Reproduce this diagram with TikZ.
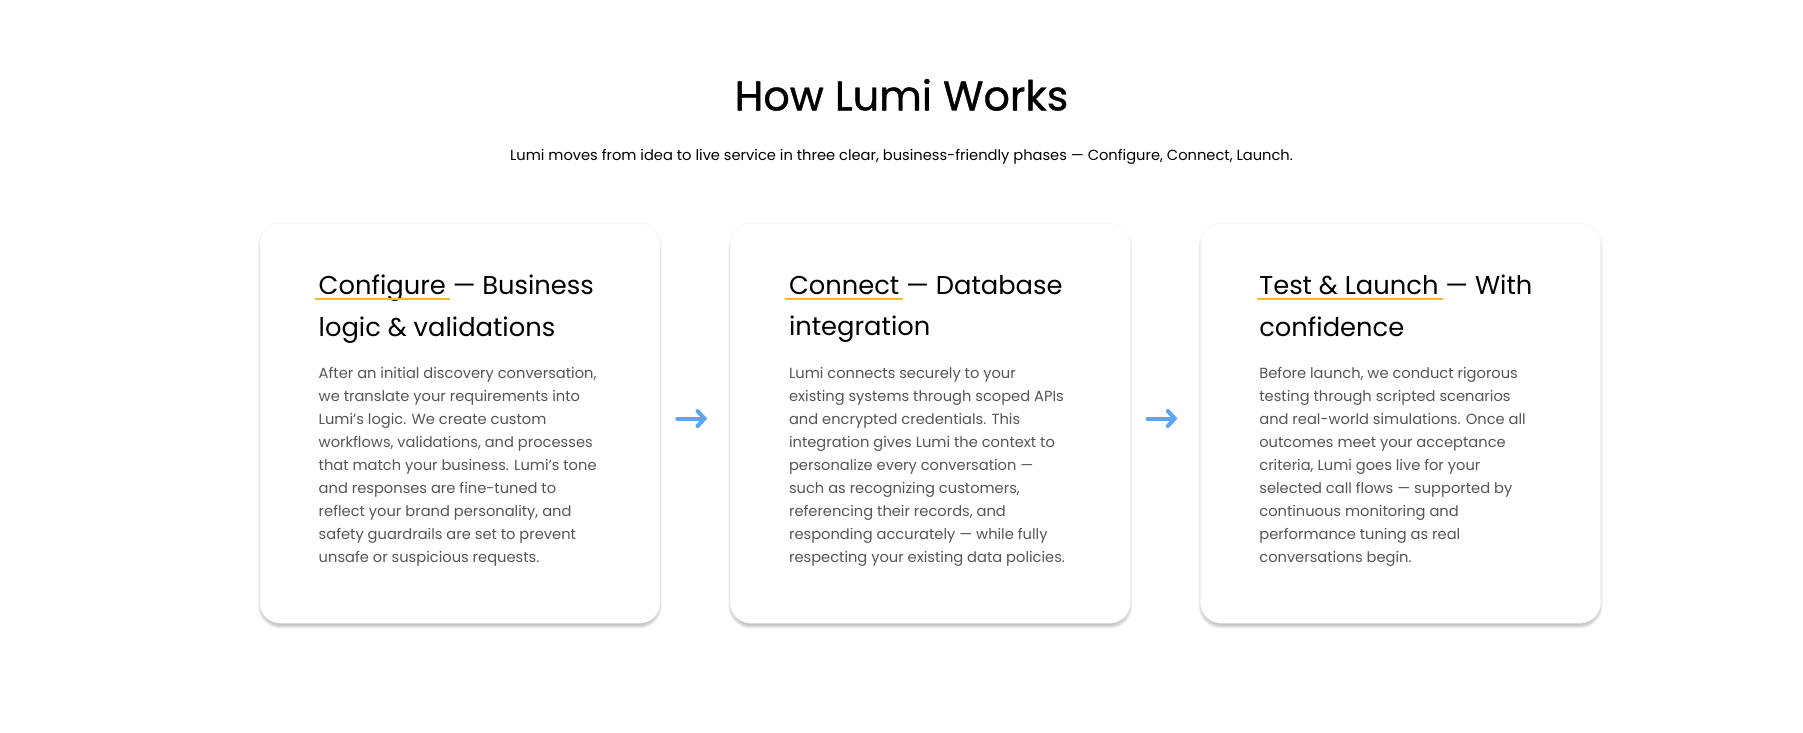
\documentclass[tikz,border=0pt]{standalone}
\usepackage{fontspec}
\setmainfont{Poppins}
\newfontfamily\titlefont[FakeBold=0.9]{Poppins}
\usetikzlibrary{shadows.blur,arrows.meta}
\definecolor{bodyg}{HTML}{555555}
\definecolor{uline}{HTML}{F5B82E}
\definecolor{arr}{HTML}{5AA5F5}
\begin{document}
\begin{tikzpicture}[x=1pt,y=-1pt,
  card/.style={draw=black!4,fill=white,rounded corners=18pt,blur shadow={shadow xshift=0pt,shadow yshift=-3pt,shadow blur steps=8,shadow opacity=25}},
  head/.style={anchor=north west,align=left,inner sep=0pt,font=\fontsize{22.4}{36}\selectfont},
  body/.style={anchor=north west,align=left,inner sep=0pt,text=bodyg,font=\fontsize{12.75}{20}\selectfont},
  ul/.style={uline,line width=1.6pt},
  flow/.style={arr,line width=3.5pt,-{Straight Barb[length=6pt,width=13pt,line cap=round]},line cap=round}]
\useasboundingbox (0,0) rectangle (1568,636.6);
\node (title) at (784,82.5) {\titlefont\fontsize{36}{40}\selectfont How Lumi Works};
\node (sub) at (784,136.5) {\fontsize{12.75}{16}\selectfont Lumi moves from idea to live service in three clear, business-friendly phases — Configure, Connect, Launch.};
\foreach \x/\n in {226/c1,635/c2,1044/c3}{
  \path[card] (\x,194) rectangle ++(348,348);
}
\coordinate (c1e) at (575,364); \coordinate (c2w) at (635,364);
\coordinate (c2e) at (984,364); \coordinate (c3w) at (1044,364);
\node[head] (h1) at (277,239) {Configure — Business\\logic \& validations};
\node[head] (h2) at (686,239) {Connect — Database\\integration};
\node[head] (h3) at (1095,239) {Test \& Launch — With\\confidence};
\draw[ul] (274,260) -- (391,260);
\draw[ul] (683,260) -- (785,260);
\draw[ul] (1093,260) -- (1255,260);
\node[body] (b1) at (277,319.5) {After an initial discovery conversation,\\we translate your requirements into\\Lumi’s logic. We create custom\\workflows, validations, and processes\\that match your business. Lumi’s tone\\and responses are fine-tuned to\\reflect your brand personality, and\\safety guardrails are set to prevent\\unsafe or suspicious requests.};
\node[body] (b2) at (686,319.5) {Lumi connects securely to your\\existing systems through scoped APIs\\and encrypted credentials. This\\integration gives Lumi the context to\\personalize every conversation —\\such as recognizing customers,\\referencing their records, and\\responding accurately — while fully\\respecting your existing data policies.};
\node[body] (b3) at (1095,319.5) {Before launch, we conduct rigorous\\testing through scripted scenarios\\and real-world simulations. Once all\\outcomes meet your acceptance\\criteria, Lumi goes live for your\\selected call flows — supported by\\continuous monitoring and\\performance tuning as real\\conversations begin.};
\draw[flow] ([xshift=14pt]c1e) -- ([xshift=-20pt]c2w);
\draw[flow] ([xshift=14pt]c2e) -- ([xshift=-20pt]c3w);
\end{tikzpicture}
\end{document}
